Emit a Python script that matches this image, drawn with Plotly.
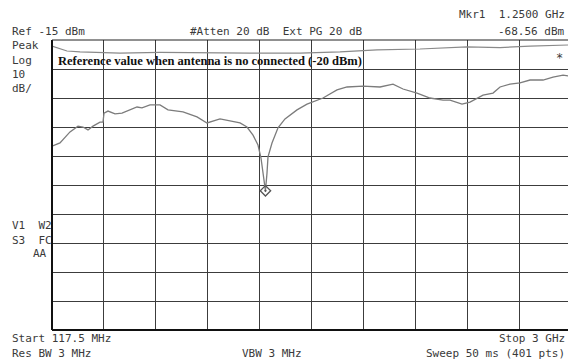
import plotly.graph_objects as go

# ---- data ----
trace_freq_mhz = [117.5, 161.9, 217.5, 261.9, 289.7, 317.4, 345.2, 384.1, 400.8, 406.3,
                  428.5, 467.4, 506.3, 550.7, 589.6, 617.4, 661.8, 717.3, 761.8, 845.1,
                  922.8, 978.4, 1011.7, 1050.6, 1161.7, 1200.5, 1233.9, 1261.6, 1278.3, 1289.4,
                  1303.0, 1311.6, 1317.2, 1339.4, 1372.8, 1411.6, 1478.3, 1533.8, 1622.7, 1700.4,
                  1756.0, 1844.8, 1939.3, 2011.5, 2067.0, 2144.8, 2217.0, 2289.2, 2328.1, 2394.8,
                  2439.2, 2511.4, 2567.0, 2605.9, 2661.4, 2717.0, 2772.5, 2844.7, 2900.3, 2955.8,
                  2983.6, 3000.0]
trace_dbm = [-51.6, -50.5, -46.7, -44.7, -45.0, -46.0, -44.7, -43.3, -43.3, -40.2,
             -39.5, -40.5, -40.2, -39.1, -38.1, -38.4, -37.4, -37.4, -39.1, -39.8,
             -41.5, -43.6, -42.9, -42.2, -43.6, -45.0, -47.8, -51.2, -55.7, -60.9,
             -67.0, -60.9, -55.3, -50.5, -45.3, -42.2, -39.1, -37.1, -35.0, -32.2,
             -31.2, -30.9, -31.2, -30.2, -31.9, -33.3, -35.0, -35.7, -35.7, -37.1,
             -36.4, -34.0, -33.3, -31.2, -30.2, -29.8, -28.8, -28.8, -27.8, -27.1,
             -27.4, -27.1]

ref_freq_mhz = [117.5, 161.9, 200.8, 273.0, 495.2, 717.3, 939.5, 1217.2, 1494.9, 1717.1,
                1922.6, 2161.4, 2422.5, 2605.9, 2772.5, 2983.6, 3000.0]
ref_dbm = [-17.1, -18.1, -18.8, -19.1, -19.5, -19.3, -19.5, -19.5, -19.5, -19.1,
           -18.4, -18.1, -17.4, -17.6, -17.1, -16.7, -16.7]

marker_freq_mhz = [1303.0]
marker_dbm = [-67.0]

start_mhz = 117.5
stop_view_mhz = 2983.4
div_mhz = 288.25
ref_level = -15
bottom_level = -115
db_per_div = 10

# ---- figure ----
W, H = 568, 362
ML, MT, MR, MB = 52, 40, 0, 32
PW, PH = W - ML - MR, H - MT - MB

fig = go.Figure()
fig.add_trace(go.Scatter(x=ref_freq_mhz, y=ref_dbm, mode="lines",
                         line=dict(color="#8a8a8a", width=1.2), hoverinfo="skip"))
fig.add_trace(go.Scatter(x=trace_freq_mhz, y=trace_dbm, mode="lines",
                         line=dict(color="#7c7c7c", width=1.3), hoverinfo="skip"))
fig.add_trace(go.Scatter(x=marker_freq_mhz, y=marker_dbm, mode="markers",
                         marker=dict(symbol="diamond-open-dot", size=8, color="#555555",
                                     line=dict(width=1.3, color="#555555")),
                         hoverinfo="skip"))


def px(x):
    return (x - ML) / PW


def py(y):
    return (MT + PH - y) / PH


MONO = "DejaVu Sans Mono"
TXT = "#3a3a3a"
labels = [
    ("Ref -15 dBm", 10, 32, "left"),
    ("#Atten 20 dB  Ext PG 20 dB", 188, 32, "left"),
    ("Mkr1  1.2500 GHz", 567, 15, "right"),
    ("-68.56 dBm", 567, 32, "right"),
    ("Peak", 10, 45, "left"),
    ("Log", 10, 60, "left"),
    ("10", 10, 74, "left"),
    ("dB/", 10, 88, "left"),
    ("V1  W2", 10, 226, "left"),
    ("S3  FC", 10, 240, "left"),
    ("AA", 49, 254, "right"),
    ("Start 117.5 MHz", 10, 338, "left"),
    ("Res BW 3 MHz", 10, 353, "left"),
    ("VBW 3 MHz", 272, 353, "center"),
    ("Stop 3 GHz", 567, 338, "right"),
    ("Sweep 50 ms (401 pts)", 567, 353, "right"),
]
for text, x, y, anchor in labels:
    fig.add_annotation(text=text, xref="paper", yref="paper", x=px(x), y=py(y),
                       xanchor=anchor, yanchor="middle", showarrow=False,
                       font=dict(family=MONO, size=11, color=TXT))

fig.add_annotation(text="<b>Reference value when antenna is no connected (-20 dBm)</b>",
                   xref="paper", yref="paper", x=px(56), y=py(61), xanchor="left",
                   yanchor="middle", showarrow=False,
                   font=dict(family="Liberation Serif", size=12.5, color="#111111"))
fig.add_annotation(text="*", xref="paper", yref="paper", x=px(559), y=py(58),
                   xanchor="center", yanchor="middle", showarrow=False,
                   font=dict(family=MONO, size=12, color=TXT))

# frame: left, bottom, top
fig.add_shape(type="line", xref="paper", yref="paper", x0=0, x1=0, y0=0, y1=1,
              line=dict(color="#111111", width=2))
fig.add_shape(type="line", xref="paper", yref="paper", x0=0, x1=1, y0=0, y1=0,
              line=dict(color="#111111", width=2))
fig.add_shape(type="line", xref="paper", yref="paper", x0=0, x1=1, y0=1, y1=1,
              line=dict(color="#222222", width=1))

fig.update_xaxes(range=[start_mhz, stop_view_mhz], tick0=start_mhz, dtick=div_mhz,
                 showgrid=True, gridcolor="#3c3c3c", gridwidth=1, zeroline=False,
                 showticklabels=False, ticks="", showline=False)
fig.update_yaxes(range=[bottom_level, ref_level], tick0=bottom_level, dtick=db_per_div,
                 showgrid=True, gridcolor="#3c3c3c", gridwidth=1, zeroline=False,
                 showticklabels=False, ticks="", showline=False)

fig.update_layout(width=W, height=H, margin=dict(l=ML, r=MR, t=MT, b=MB),
                  paper_bgcolor="white", plot_bgcolor="white", showlegend=False)

fig.write_html("out.html")
